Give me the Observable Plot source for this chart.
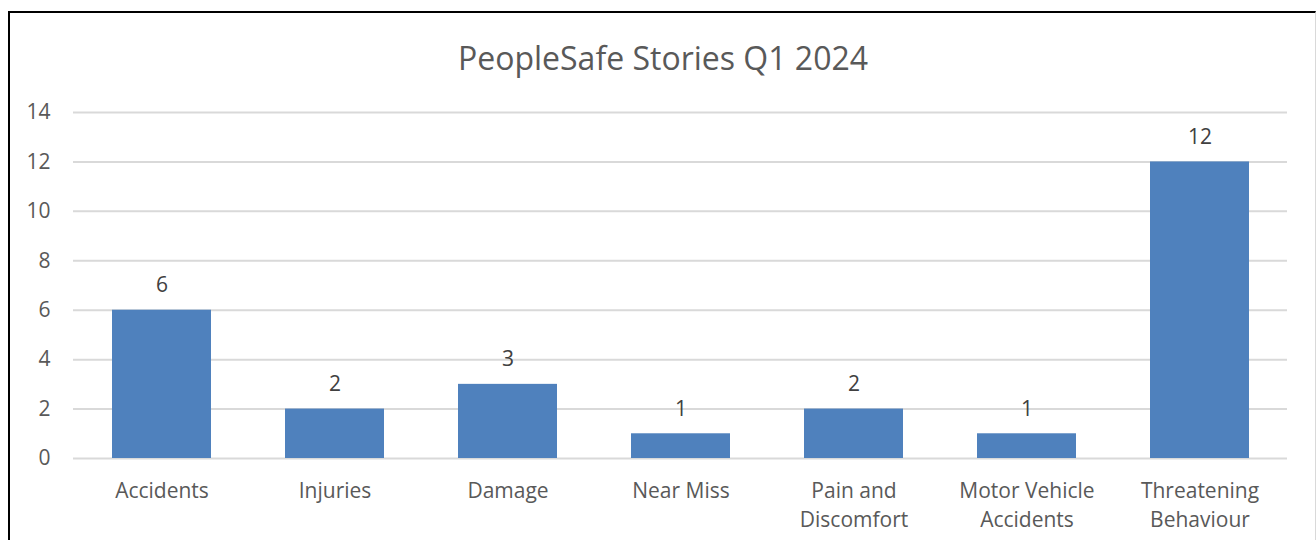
<!DOCTYPE html>
<html>
<head>
<meta charset="utf-8">
<script src="https://cdn.jsdelivr.net/npm/d3@7"></script>
<script src="https://cdn.jsdelivr.net/npm/@observablehq/plot@0.6"></script>
<style>
  body { margin: 0; background: #fff; width: 1316px; height: 540px; overflow: hidden; position: relative; }
  #frame { position: absolute; left: 8px; top: 11px; width: 1305px; height: 600px;
           border-left: 2px solid #000; border-top: 2px solid #000; border-right: 1px solid #d9d9d9; }
  #chart { position: absolute; left: 0; top: 0; width: 1316px; }
  #title { height: 64px; padding-top: 26px; padding-left: 10px; line-height: 64px; text-align: center;
           font-family: "Open Sans", Lato, sans-serif; font-size: 32px; color: #595959; box-sizing: content-box; }
</style>
</head>
<body>
<div id="frame"></div>
<div id="chart">
  <div id="title">PeopleSafe Stories Q1 2024</div>
  <div id="plot"></div>
</div>
<script>
const categories = ["Accidents", "Injuries", "Damage", "Near Miss", "Pain and\nDiscomfort", "Motor Vehicle\nAccidents", "Threatening\nBehaviour"];
const values = [6, 2, 3, 1, 2, 1, 12];
const yTicks = [0, 2, 4, 6, 8, 10, 12, 14];

const data = categories.map((c, i) => ({category: c, value: values[i]}));
const font = "'Open Sans', Lato, sans-serif";

const chart = Plot.plot({
  width: 1316,
  height: 450,
  marginLeft: 73,
  marginRight: 29,
  marginTop: 22,
  marginBottom: 82,
  style: {fontFamily: font, fontSize: "21px", color: "#595959", background: "transparent", overflow: "visible"},
  x: {domain: categories, paddingInner: 0.43, paddingOuter: 0.215, label: null},
  y: {domain: [0, 14], label: null},
  marks: [
    Plot.gridY(yTicks, {stroke: "#d9d9d9", strokeOpacity: 1, strokeWidth: 2}),
    Plot.axisY(yTicks, {tickSize: 0, tickPadding: 23, label: null, fill: "#595959", fontSize: 21}),
    Plot.barY(data, {x: "category", y: "value", fill: "#4f81bd"}),
    Plot.text(data, {x: "category", y: "value", text: d => String(d.value), dy: -25, fill: "#404040", fontSize: 21}),
    Plot.axisX({tickSize: 0, tickPadding: 19, label: null, fill: "#595959", fontSize: 21, lineHeight: 1.38})
  ]
});
document.getElementById("plot").appendChild(chart);
</script>
</body>
</html>
